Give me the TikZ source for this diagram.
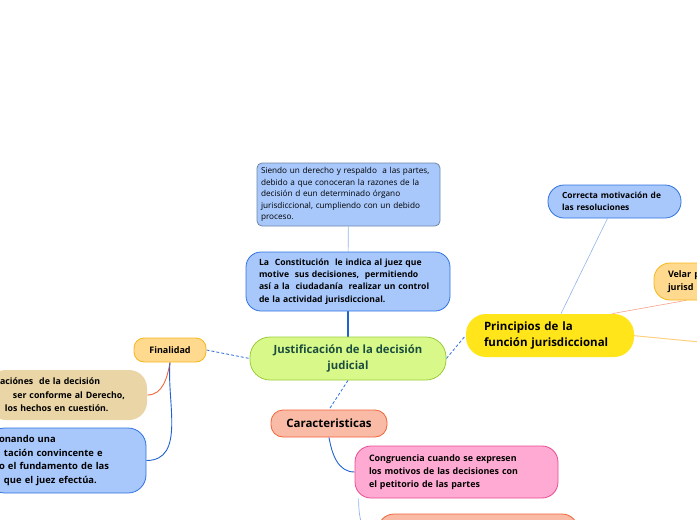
\documentclass[tikz,border=0pt]{standalone}
\usepackage{fontspec}
\setmainfont{Open Sans}
\usepackage{xcolor}
\usepackage{tikz}
\usetikzlibrary{
    arrows.meta,
    positioning,
    backgrounds
}

\definecolor{skyfill}{HTML}{A8C8FC}
\definecolor{skyline}{HTML}{2F72E0}
\definecolor{grayline}{HTML}{6F86A8}
\definecolor{limefill}{HTML}{D8F98A}
\definecolor{limeline}{HTML}{9ACB3A}
\definecolor{darkgreen}{HTML}{1B4D3E}
\definecolor{sunfill}{HTML}{FFE51A}
\definecolor{sandfill}{HTML}{FFD98E}
\definecolor{sandline}{HTML}{F7B718}
\definecolor{beigefill}{HTML}{E9D5A5}
\definecolor{salmonfill}{HTML}{F9BAA6}
\definecolor{salmonline}{HTML}{F2643A}
\definecolor{pinkfill}{HTML}{FFAAD3}
\definecolor{pinkline}{HTML}{E94C8F}
\definecolor{dashblue}{HTML}{2E6EE0}
\definecolor{paleblue}{HTML}{8FB4E8}
\definecolor{linkblue}{HTML}{1F62D0}

\begin{document}
\begin{tikzpicture}[
    x=1pt, y=-1pt,
    box/.style={
        rounded corners=12pt,
        line width=0.8pt,
        inner ysep=0pt,
        align=left,
        font=\bfseries\fontsize{8.6}{12.2}\selectfont
    },
    dashlink/.style={dashblue, dashed, dash pattern=on 3pt off 2pt, line width=0.8pt},
    link/.style={line width=0.9pt}
]

\useasboundingbox (0,0) rectangle (697,520);
\clip (0,0) rectangle (697,520);

% main topic
\node[box, draw=limeline, fill=limefill, text=darkgreen, align=center,
      rounded corners=20pt, minimum width=196pt, minimum height=43pt,
      font=\bfseries\fontsize{11.3}{16}\selectfont] (just) at (348,358.5)
      {Justificación de la decisión\\judicial};

% upper branch
\node[box, draw=skyline, fill=skyfill, rounded corners=15pt,
      text width=178pt, inner xsep=13pt, minimum height=59pt] (const) at (348,281.5)
      {La\ \ Constitución\ \ le indica al juez que\\
       motive\ \ sus decisiones,\ \ permitiendo\\
       así a la\ \ ciudadanía\ \ realizar un control\\
       de la actividad jurisdiccional.};
\node[box, draw=grayline, fill=skyfill, rounded corners=5pt,
      text width=175pt, inner xsep=4pt, minimum height=63pt,
      font=\fontsize{8.2}{11.5}\selectfont] (parte) at (348.5,194.5)
      {Siendo un derecho y respaldo\ \ a las partes,\\
       debido a que conoceran la razones de la\\
       decisión d eun determinado órgano\\
       jurisdiccional, cumpliendo con un debido\\
       proceso.};

% left branch
\node[box, draw=sandline, fill=sandfill, rounded corners=10pt, align=center,
      minimum width=72pt, minimum height=24pt,
      font=\bfseries\fontsize{9}{12}\selectfont] (fin) at (170,350) {Finalidad};
\node[box, fill=beigefill, rounded corners=18pt, text width=135pt, inner xsep=12pt,
      minimum height=50pt, font=\bfseries\fontsize{8.8}{13.5}\selectfont] (motiv) at (67.5,395)
      {aciónes\ \ de la decisión\\
       \hspace*{13pt}ser conforme al Derecho,\\
       \hspace*{5pt}los hechos en cuestión.};
\node[box, draw=skyline, fill=skyfill, rounded corners=18pt, text width=135pt, inner xsep=12pt,
      minimum height=65pt, font=\bfseries\fontsize{9.4}{13.4}\selectfont] (fund) at (66.5,460.5)
      {onando una\\
       \hspace*{5pt}tación convincente e\\
       o el fundamento de las\\
       \hspace*{5pt}que el juez efectúa.};

% right branch
\node[box, fill=sunfill, rounded corners=20pt, text width=132pt, inner xsep=18pt,
      minimum height=43pt, font=\bfseries\fontsize{11.5}{16}\selectfont] (princ) at (550,335.5)
      {Principios de la\\función jurisdiccional};
\node[box, draw=skyline, fill=skyfill, rounded corners=16pt, text width=105pt, inner xsep=14pt,
      minimum height=33pt, font=\bfseries\fontsize{8.4}{11.7}\selectfont] (corr) at (614.5,201.5)
      {Correcta motivación de\\las resoluciones};
\node[box, draw=sandline, fill=sandfill, rounded corners=16pt, text width=80pt, inner xsep=14pt,
      minimum height=37pt, font=\bfseries\fontsize{9}{13}\selectfont] (velar) at (708,281.5)
      {Velar p\\jurisd};
\coordinate (far) at (710,343);

% lower branch
\node[box, draw=salmonline, fill=salmonfill, rounded corners=12pt, align=center,
      minimum width=116pt, minimum height=27pt,
      font=\bfseries\fontsize{11.5}{13}\selectfont] (car) at (329,423.5) {Caracteristicas};
\node[box, draw=pinkline, fill=pinkfill, rounded corners=16pt, text width=175pt, inner xsep=14pt,
      minimum height=52pt, font=\bfseries\fontsize{8.9}{13.3}\selectfont] (cong) at (456.5,472)
      {Congruencia cuando se expresen\\
       los motivos de las decisiones con\\
       el petitorio de las partes};
\node[box, draw=salmonline, fill=salmonfill, rounded corners=16pt,
      minimum width=200pt, minimum height=46pt] (otra) at (478,537) {};

\begin{scope}[on background layer]
\draw[paleblue, line width=0.6pt] (parte) -- (const);
\draw[link, linkblue, line width=1.2pt] (const) -- (just);
\draw[dashlink] (fin.east) -- (just.west);
\draw[dashlink] (just.east) -- (princ.west);
\draw[dashlink] (just.south) -- (car.north);
\draw[link, salmonline] (fin.south) to[out=-100, in=0] (motiv.east);
\draw[link, linkblue] (fin.south) to[out=-95, in=0] (fund.east);
\draw[link, linkblue] (car.south) to[out=-80, in=180] (cong.west);
\draw[paleblue, line width=0.7pt] ([xshift=4pt]cong.south west)
      to[out=-90, in=180] (otra.west);
\draw[paleblue, line width=0.6pt] ([xshift=11pt]princ.north) -- ([xshift=-7pt]corr.south);
\draw[salmonline!60, line width=0.6pt] ([xshift=-22pt]princ.north east) -- ([xshift=-22pt]velar.south);
\draw[sandfill!90!orange, line width=1pt] ([xshift=-2pt]princ.east) -- (far);
\end{scope}

\end{tikzpicture}
\end{document}
